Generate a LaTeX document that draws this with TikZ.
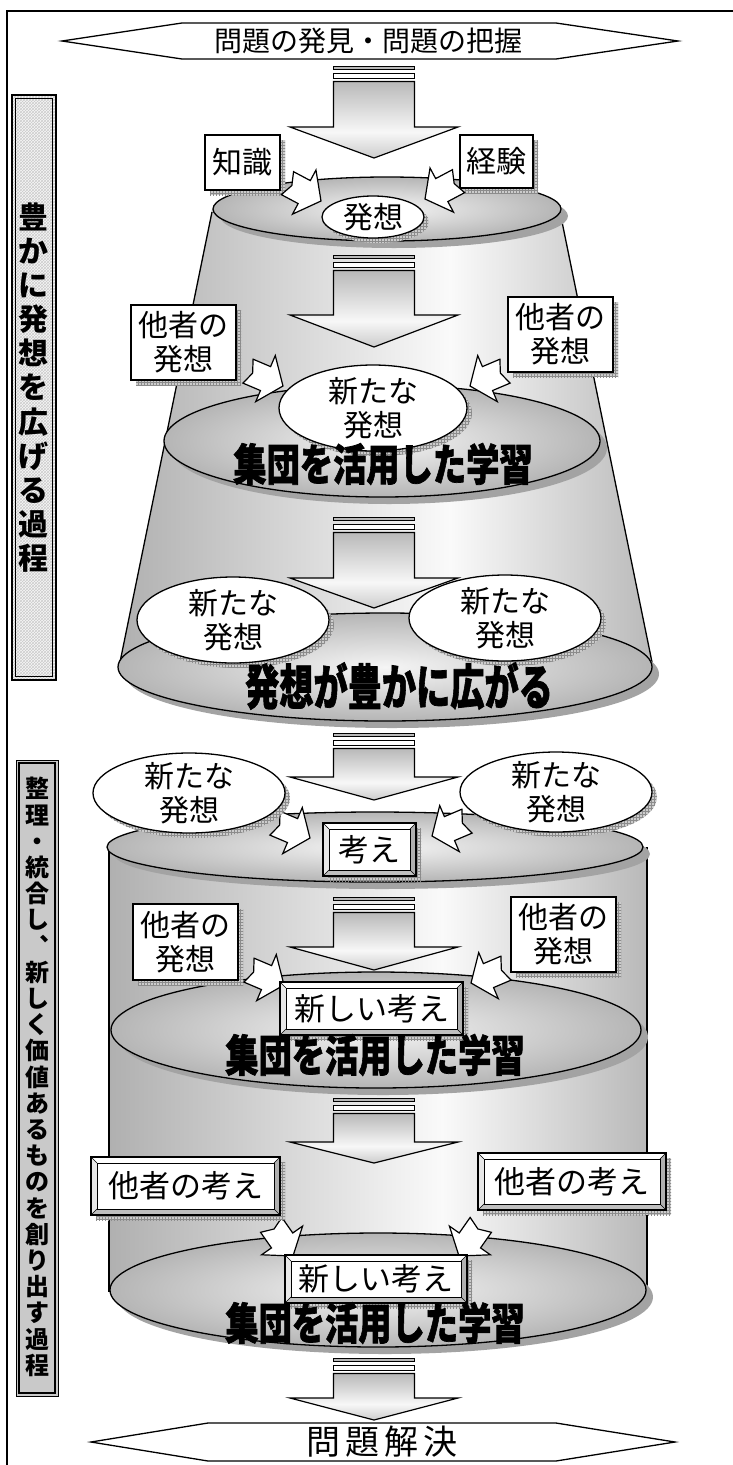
\documentclass[tikz,border=0pt]{standalone}
\usepackage{fontspec}
\setmainfont{Noto Sans CJK JP}
\newfontfamily\jph{Noto Sans CJK JP}[BoldFeatures={FakeBold=1.6}]
\usetikzlibrary{shapes.geometric,patterns}
\pgfdeclarehorizontalshading{bodyshade}{100bp}{color(0bp)=(gray!62); color(25bp)=(gray!62); color(56bp)=(gray!4); color(75bp)=(gray!55); color(100bp)=(gray!55)}
\pgfdeclareverticalshading{arrowshade}{100bp}{color(0bp)=(gray!40); color(25bp)=(gray!40); color(42bp)=(gray!6); color(75bp)=(gray!55); color(100bp)=(gray!55)}
\tikzset{
  lw/.style={line width=1.3},
  hatchshadow/.style={preaction={fill=gray!40, transform canvas={shift={(5,5)}}},
                      preaction={pattern=grid, pattern color=gray!90, transform canvas={shift={(5,5)}}}},
  boxn/.style={draw, lw, fill=white, rectangle, inner sep=0, hatchshadow, font=\fontsize{30}{34}\selectfont, align=center},
  elln/.style={draw, lw, fill=white, ellipse, inner xsep=0pt, inner ysep=-8pt, hatchshadow, font=\fontsize{30}{34}\selectfont, align=center},
  wordart/.style={font=\jph\bfseries\fontsize{35}{38}\selectfont, inner sep=0, transform shape, xscale=0.95, yscale=1.25},
}
\newcommand\blockarrow[3]{%
  \shade[shading=arrowshade, draw=black, line width=1.2, line join=miter] (333.5,#1+15.5) -- (333.5,#2) -- (290,#2) -- (374,#3) -- (458,#2) -- (414.5,#2) -- (414.5,#1+15.5) -- cycle;
  \draw[fill=gray!55, line width=0.9] (333.5,#1) rectangle (414.5,#1+3.5);
  \draw[fill=white, line width=0.9] (333.5,#1+7) rectangle (414.5,#1+12.5);
}
\newcommand\notched[2]{%
  \draw[line width=1.2, fill=white, line join=miter, shift={(#1)}, rotate=#2] (0,0) -- (-19,25) -- (-19,13) -- (-38,13) -- (-33,0) -- (-38,-13) -- (-19,-13) -- (-19,-25) -- cycle;}
\newcommand\disc[4]{%
  \fill[gray!72] (#1+7,#2+7) ellipse [x radius=#3, y radius=#4];
  \shade[shading=radial, inner color=gray!8, outer color=gray!58, draw=black, line width=1.3] (#1,#2) ellipse [x radius=#3, y radius=#4];}
\newcommand\bevelbox[6]{%
  \fill[gray!40] (#2+5,#3+5) rectangle (#4+5,#5+5);
  \fill[pattern=grid, pattern color=gray!90] (#2+5,#3+5) rectangle (#4+5,#5+5);
  \fill[gray!50] (#2,#3) rectangle (#4,#5);
  \fill[white] (#2,#3) -- (#4,#3) -- (#4-6,#3+6) -- (#2+6,#3+6) -- cycle;
  \fill[gray!18] (#2,#3) -- (#2+6,#3+6) -- (#2+6,#5-6) -- (#2,#5) -- cycle;
  \fill[gray!62] (#4,#3) -- (#4,#5) -- (#4-6,#5-6) -- (#4-6,#3+6) -- cycle;
  \draw[line width=0.6] (#2,#3) -- (#2+6,#3+6) (#4,#3) -- (#4-6,#3+6) (#2,#5) -- (#2+6,#5-6) (#4,#5) -- (#4-6,#5-6);
  \draw[line width=1.2] (#2,#3) rectangle (#4,#5);
  \node[draw, line width=1, fill=white, minimum width=#4-#2-12, minimum height=#5-#3-12, inner sep=0, font=\fontsize{31}{34}\selectfont] (#1) at ({(#2+#4)/2},{(#3+#5)/2}) {#6};
}
\begin{document}
\begin{tikzpicture}[x=1pt,y=-1pt]
\useasboundingbox (0,0) rectangle (733,1465);
% frame
\draw[line width=1.5] (7,1470) -- (7,11) -- (740,11);
% left labels
\fill[gray!6] (12,95) rectangle (56,680);
\fill[pattern=crosshatch, pattern color=gray!40] (12,95) rectangle (56,680);
\draw[line width=2] (12,95) rectangle (56,680);
\draw[line width=0.8] (15.5,98.5) rectangle (52.5,676.5);
\node[font=\bfseries\fontsize{30}{34.1}\selectfont, align=center, inner sep=0] (labelA) at (34,387.5) {豊\\か\\に\\発\\想\\を\\広\\げ\\る\\過\\程};
\fill[gray!42] (16,760) rectangle (58,1396);
\draw[line width=1] (16,760) rectangle (58,1396);
\draw[line width=1.6] (19,763) rectangle (55,1393);
\node[font=\bfseries\fontsize{24}{26.2}\selectfont, align=center, inner sep=0] (labelB) at (37,1077) {整\\理\\・\\統\\合\\し\\︑\\新\\し\\く\\価\\値\\あ\\る\\も\\の\\を\\創\\り\\出\\す\\過\\程};
% top banner
\draw[lw, fill=white] (62,41) -- (182,23) -- (556,23) -- (678,41) -- (556,59) -- (182,59) -- cycle;
\node[font=\fontsize{28}{30}\selectfont, inner sep=0] (mondai) at (368,41) {問題の発見・問題の把握};
% upper frustum
\shade[shading=bodyshade] (212,209) -- (119,667) -- (653,667) -- (560,209) -- cycle;
\draw[lw] (212,212) -- (119,667);
\draw[lw] (560,212) -- (653,667);
\disc{385}{667}{267}{54}
\disc{382}{441}{218}{56}
\disc{387}{209}{174}{32}
% lower cylinder
\shade[shading=bodyshade] (109,847) rectangle (647,1290);
\draw[lw] (109,847) -- (109,1292);
\draw[lw] (647,847) -- (647,1288);
\disc{378}{1290}{268}{57}
\disc{376}{1030}{265}{58}
\disc{375}{847}{268}{35}
% block arrows
\blockarrow{66}{127}{158}
\blockarrow{255}{315}{347}
\blockarrow{517}{578}{608}
\blockarrow{733}{777}{800}
\blockarrow{897}{947}{970}
\blockarrow{1098}{1142}{1163}
\blockarrow{1358}{1398}{1420}
% boxes
\node[boxn, minimum width=75, minimum height=55] (chishiki) at (242.5,162.5) {知識};
\node[boxn, minimum width=73, minimum height=53] (keiken) at (496.5,161.5) {経験};
\node[boxn, minimum width=105, minimum height=75] (tashaA) at (183.5,342.5) {他者の\\発想};
\node[boxn, minimum width=105, minimum height=75] (tashaB) at (560.5,334.5) {他者の\\発想};
\node[boxn, minimum width=105, minimum height=76] (tashaC) at (185.5,942) {他者の\\発想};
\node[boxn, minimum width=105, minimum height=75] (tashaD) at (563.5,934.5) {他者の\\発想};
% notched arrows
\notched{321,201}{-28}
\notched{425,199}{208}
\notched{283,386}{-23}
\notched{470,386}{203}
\notched{310,838}{-23}
\notched{432,836}{203}
\notched{284,985}{-23}
\notched{471,983}{203}
\notched{293,1256}{-55}
\notched{459,1256}{235}
% ellipses
\node[elln, minimum width=102, minimum height=42] (hasso) at (373,217) {発想};
\node[elln, minimum width=188, minimum height=86] (aratA) at (373,408) {新たな\\発想};
\node[elln, minimum width=192, minimum height=86] (aratB) at (233,620) {新たな\\発想};
\node[elln, minimum width=192, minimum height=86] (aratC) at (505,618) {新たな\\発想};
\node[elln, minimum width=192, minimum height=80] (aratD) at (189,793) {新たな\\発想};
\node[elln, minimum width=192, minimum height=80] (aratE) at (556,792) {新たな\\発想};
% bevel boxes
\bevelbox{kangae}{323}{823}{416}{876}{考え}
\bevelbox{atarashiA}{280}{982}{463}{1035}{新しい考え}
\bevelbox{tashaE}{91}{1157}{280}{1215}{他者の考え}
\bevelbox{tashaF}{478}{1153}{666}{1210}{他者の考え}
\bevelbox{atarashiB}{285}{1255}{467}{1303}{新しい考え}
% word art
\node[wordart] (shudanA) at (383,464) {集団を活用した学習};
\node[wordart, font=\jph\bfseries\fontsize{36}{38}\selectfont, yscale=1.08] (hirogaru) at (399,686) {発想が豊かに広がる};
\node[wordart] (shudanB) at (375,1055) {集団を活用した学習};
\node[wordart] (shudanC) at (375,1323) {集団を活用した学習};
% bottom banner
\draw[lw, fill=white] (91,1442) -- (208,1423) -- (556,1423) -- (675,1442) -- (556,1461) -- (208,1461) -- cycle;
\node[font=\fontsize{34}{36}\selectfont, inner sep=0] (kaiketsu) at (382,1442) {問\hspace{5pt}題\hspace{5pt}解\hspace{5pt}決};
\end{tikzpicture}
\end{document}
